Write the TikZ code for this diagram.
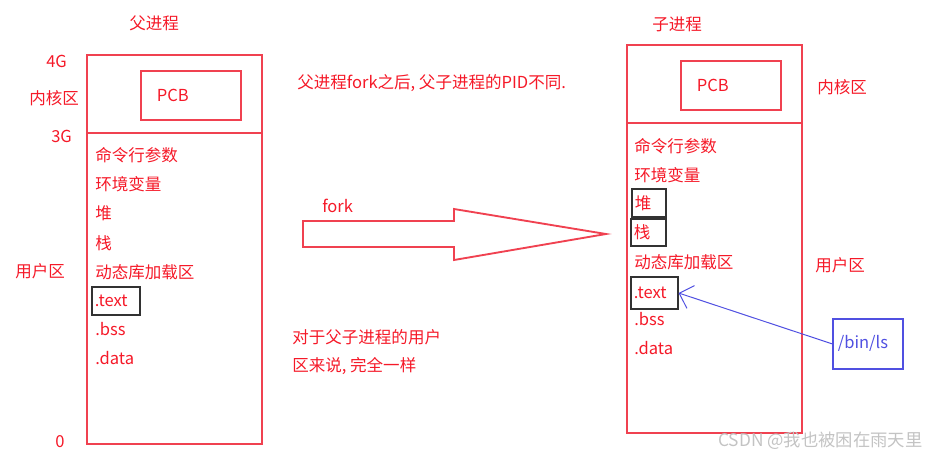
\documentclass[tikz,border=0pt]{standalone}
\usepackage{fontspec}
\setmainfont{Noto Sans CJK SC}
\usepackage{xcolor}
\usetikzlibrary{arrows.meta,calc}
\definecolor{procred}{RGB}{245,25,40}
\definecolor{boxred}{RGB}{240,65,80}
\definecolor{binblue}{RGB}{80,80,225}
\definecolor{markgray}{RGB}{50,50,50}
\definecolor{wmgray}{RGB}{195,195,195}
\tikzset{
  every picture/.style = {
    x=0.75pt,
    y=-0.75pt,
    font=\fontsize{12.4}{14}\selectfont
  }
}
\tikzset{
  txt/.style={
    text = procred,
    inner sep = 0pt,
    anchor = base west
  },
  memory/.style={
    draw = boxred,
    line width = 1.4pt,
    inner sep = 0pt,
    anchor = north west,
    minimum width = 131.25pt
  },
  divider/.style={
    draw = boxred,
    line width = 1.4pt
  },
  pcb/.style={
    draw = boxred,
    line width = 1.4pt,
    text = procred,
    anchor = north west,
    inner xsep = 12pt,
    inner ysep = 0pt,
    text width = 51pt,
    minimum height = 36.75pt
  },
  marked/.style={
    draw = markgray,
    line width = 1.2pt,
    text = procred,
    anchor = west,
    inner xsep = 2.25pt,
    inner ysep = 0pt
  },
  binfile/.style={
    draw = binblue,
    line width = 1.2pt,
    text = binblue,
    anchor = north west,
    inner xsep = 3.75pt,
    inner ysep = 0pt,
    text width = 45pt,
    minimum height = 37.5pt
  },
  forkarrow/.style={
    draw = boxred,
    line width = 1.4pt
  }
}

\begin{document}
\begin{tikzpicture}
    \useasboundingbox (0,0) rectangle (929,458);
    % parent process
    \node[txt] (ptitle) at (129,29) {父进程};
    \node[memory, minimum height=291.75pt] (parent) at (86,54) {};
    \draw[divider] ($(parent.north west)+(0,79)$) -- ($(parent.north east)+(0,79)$);
    \node[pcb] (ppcb) at (140,70) {PCB};
    \node[txt] (p4g) at (46,67) {4G};
    \node[txt] (pkern) at (29,104) {内核区};
    \node[txt] (p3g) at (51,142) {3G};
    \node[txt] (puser) at (15,277) {用户区};
    \node[txt] (pzero) at (55,447) {0};
    \node[txt] (pargs) at (95,161) {命令行参数};
    \node[txt] (penv) at (95,190) {环境变量};
    \node[txt] (pheap) at (95,219) {堆};
    \node[txt] (pstack) at (95,249) {栈};
    \node[txt] (plib) at (95,278) {动态库加载区};
    \node[marked, text width=31.5pt, minimum height=21pt] (ptext) at (91,301) {.text};
    \node[txt] (pbss) at (95,335) {.bss};
    \node[txt] (pdata) at (95,364) {.data};
    % notes and fork
    \node[txt] (pidnote) at (297,88) {父进程fork之后, 父子进程的PID不同.};
    \node[txt] (forklbl) at (322,212) {fork};
    \draw[forkarrow] (303,221) -- (454,221) -- (454,209) -- (606,234)
        -- (454,260) -- (454,247) -- (303,247) -- cycle;
    \node[txt] (samenote1) at (292,343) {对于父子进程的用户};
    \node[txt] (samenote2) at (292,371) {区来说, 完全一样};
    % child process
    \node[txt] (ctitle) at (652,30) {子进程};
    \node[memory, minimum height=291pt] (child) at (626,44) {};
    \draw[divider] ($(child.north west)+(0,79)$) -- ($(child.north east)+(0,79)$);
    \node[pcb] (cpcb) at (680,60) {PCB};
    \node[txt] (ckern) at (817,93) {内核区};
    \node[txt] (cuser) at (815,271) {用户区};
    \node[txt] (cargs) at (634,152) {命令行参数};
    \node[txt] (cenv) at (634,181) {环境变量};
    \node[marked, text width=21pt, minimum height=21pt] (cheap) at (631,203) {堆};
    \node[marked, text width=21.75pt, minimum height=20.25pt] (cstack) at (630,232.5) {栈};
    \node[txt] (clib) at (634,268) {动态库加载区};
    \node[marked, text width=30.75pt, minimum height=24pt] (ctext) at (630,293) {.text};
    \node[txt] (cbss) at (634,325) {.bss};
    \node[txt] (cdata) at (634,354) {.data};
    \node[binfile] (binls) at (832,318) {/bin/ls};
    \draw[binblue, line width=0.75pt, -{Straight Barb[length=9pt,width=18pt]}] (binls.west) -- (ctext.east);
    \node[txt, text=wmgray, font=\fontsize{13}{15}\selectfont] (wmark) at (718,446) {CSDN @我也被困在雨天里};
\end{tikzpicture}
\end{document}
